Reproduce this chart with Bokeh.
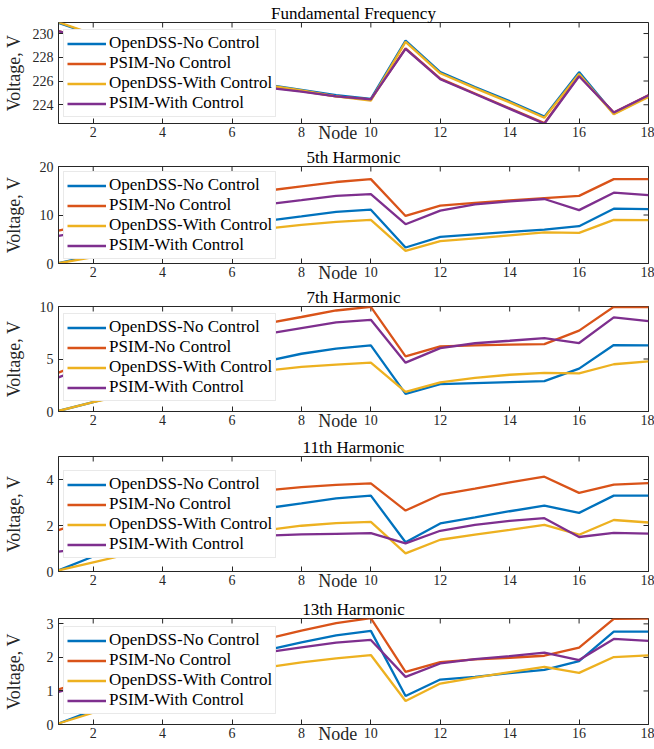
from bokeh.plotting import figure
from bokeh.models import Range1d, FixedTicker, Legend, LegendItem
from bokeh.layouts import column
from bokeh.embed import file_html
from bokeh.resources import INLINE
import math

FONT = "Liberation Serif"
TXT = "#262626"

nodes = list(range(1, 19))
series_names = ["OpenDSS-No Control", "PSIM-No Control", "OpenDSS-With Control", "PSIM-With Control"]
series_colors = ["#0072BD", "#D95319", "#EDB120", "#7E2F8E"]
x_ticks = [2, 4, 6, 8, 10, 12, 14, 16, 18]

# Fundamental frequency
fund_ods_nc = [230.9, 229.9, 229.0, 228.1, 227.3, 226.5, 225.7, 225.25, 224.8, 224.5, 229.4, 226.75, 225.5, 224.3, 223.0, 226.75, 223.25, 224.75]
fund_psim_nc = [230.2, 229.4, 228.6, 227.8, 227.0, 226.2, 225.5, 225.15, 224.7, 224.45, 228.75, 226.2, 224.95, 223.7, 222.45, 226.45, 223.35, 224.8]
fund_ods_wc = [230.95, 229.95, 229.0, 228.1, 227.25, 226.45, 225.65, 225.2, 224.7, 224.35, 229.3, 226.65, 225.4, 224.2, 222.9, 226.6, 223.2, 224.65]
fund_psim_wc = [230.2, 229.35, 228.55, 227.75, 226.95, 226.15, 225.45, 225.1, 224.7, 224.45, 228.7, 226.15, 224.9, 223.65, 222.4, 226.4, 223.35, 224.8]

# 5th harmonic
h5_ods_nc = [0.1, 1.7, 3.3, 4.9, 6.3, 7.6, 8.8, 9.7, 10.65, 11.1, 3.3, 5.5, 6.0, 6.5, 7.0, 7.7, 11.3, 11.2]
h5_psim_nc = [6.8, 8.3, 9.8, 11.2, 12.5, 13.8, 15.0, 15.9, 16.8, 17.4, 9.8, 11.95, 12.5, 13.0, 13.5, 13.95, 17.4, 17.4]
h5_ods_wc = [0.05, 1.3, 2.6, 3.9, 5.0, 6.1, 7.2, 7.95, 8.6, 9.0, 2.6, 4.6, 5.2, 5.8, 6.4, 6.3, 9.0, 8.95]
h5_psim_wc = [5.7, 7.0, 8.3, 9.5, 10.5, 11.4, 12.2, 13.05, 13.95, 14.3, 8.1, 10.9, 12.2, 12.8, 13.3, 11.0, 14.6, 14.1]

# 7th harmonic
h7_ods_nc = [0.05, 0.9, 1.8, 2.7, 3.5, 4.2, 4.8, 5.5, 5.98, 6.3, 1.68, 2.6, 2.7, 2.8, 2.9, 4.08, 6.33, 6.3]
h7_psim_nc = [3.7, 5.0, 6.0, 6.8, 7.5, 8.0, 8.4, 9.0, 9.62, 9.97, 5.25, 6.2, 6.3, 6.36, 6.42, 7.7, 9.97, 9.94]
h7_ods_wc = [0.05, 0.9, 1.6, 2.3, 2.9, 3.4, 3.9, 4.25, 4.46, 4.65, 1.87, 2.78, 3.2, 3.5, 3.67, 3.64, 4.5, 4.78]
h7_psim_wc = [3.25, 4.5, 5.4, 6.1, 6.7, 7.1, 7.4, 7.95, 8.48, 8.73, 4.65, 6.04, 6.5, 6.74, 6.99, 6.52, 8.96, 8.6]

# 11th harmonic
h11_ods_nc = [0.05, 0.65, 1.25, 1.75, 2.15, 2.5, 2.75, 2.96, 3.18, 3.3, 1.27, 2.09, 2.35, 2.62, 2.86, 2.55, 3.3, 3.3]
h11_psim_nc = [1.8, 2.3, 2.7, 3.0, 3.25, 3.4, 3.53, 3.67, 3.77, 3.83, 2.65, 3.34, 3.6, 3.87, 4.12, 3.42, 3.78, 3.84]
h11_ods_wc = [0.05, 0.4, 0.75, 1.05, 1.35, 1.6, 1.8, 1.99, 2.1, 2.16, 0.79, 1.38, 1.6, 1.81, 2.03, 1.6, 2.24, 2.13]
h11_psim_wc = [0.86, 1.05, 1.2, 1.32, 1.42, 1.5, 1.56, 1.61, 1.64, 1.67, 1.22, 1.77, 2.03, 2.2, 2.32, 1.5, 1.68, 1.65]

# 13th harmonic
h13_ods_nc = [0.03, 0.42, 0.8, 1.2, 1.55, 1.9, 2.22, 2.45, 2.66, 2.79, 0.85, 1.34, 1.42, 1.53, 1.63, 1.89, 2.77, 2.77]
h13_psim_nc = [1.05, 1.35, 1.65, 1.9, 2.15, 2.35, 2.55, 2.8, 3.02, 3.17, 1.57, 1.86, 1.94, 1.99, 2.05, 2.29, 3.15, 3.16]
h13_ods_wc = [0.03, 0.35, 0.7, 1.0, 1.25, 1.5, 1.7, 1.85, 1.97, 2.07, 0.7, 1.22, 1.4, 1.56, 1.72, 1.54, 2.01, 2.06]
h13_psim_wc = [0.97, 1.25, 1.5, 1.7, 1.88, 2.03, 2.15, 2.3, 2.44, 2.52, 1.42, 1.82, 1.95, 2.04, 2.14, 1.92, 2.55, 2.49]

panels = [
    dict(title="Fundamental Frequency", data=[fund_ods_nc, fund_psim_nc, fund_ods_wc, fund_psim_wc],
         yr=(222.42, 230.93), yt=[224, 226, 228, 230], fh=101, tb=22, bb=21, lt=11, ls=6),
    dict(title="5th Harmonic", data=[h5_ods_nc, h5_psim_nc, h5_ods_wc, h5_psim_wc],
         yr=(0, 20), yt=[0, 10, 20], fh=97, tb=20, bb=22, lt=9, ls=13),
    dict(title="7th Harmonic", data=[h7_ods_nc, h7_psim_nc, h7_ods_wc, h7_psim_wc],
         yr=(0, 10), yt=[0, 5, 10], fh=105, tb=20, bb=24, lt=11, ls=13),
    dict(title="11th Harmonic", data=[h11_ods_nc, h11_psim_nc, h11_ods_wc, h11_psim_wc],
         yr=(0, 5), yt=[0, 2, 4], fh=115, tb=20, bb=26, lt=18, ls=20),
    dict(title="13th Harmonic", data=[h13_ods_nc, h13_psim_nc, h13_ods_wc, h13_psim_wc],
         yr=(0, 3.16), yt=[0, 1, 2, 3], fh=106, tb=20, bb=23, lt=12, ls=20),
]

X_LO, X_HI = 1, 18
LEG_H = 84
NBSP = "\u00a0"
figs = []
for pn in panels:
    y_lo, y_hi = pn["yr"]
    p = figure(frame_width=590, frame_height=pn["fh"],
               x_range=Range1d(X_LO, X_HI), y_range=Range1d(y_lo, y_hi),
               output_backend="svg", toolbar_location=None,
               min_border_left=58, min_border_right=6,
               min_border_top=pn["tb"], min_border_bottom=pn["bb"])
    p.title.text = pn["title"]
    p.title.align = "center"
    p.title.text_font = FONT
    p.title.text_font_size = "17px"
    p.title.text_font_style = "normal"
    p.title.text_color = "#000000"
    p.title.standoff = 0
    p.grid.visible = False
    p.outline_line_color = TXT
    p.outline_line_width = 1
    p.background_fill_color = "white"
    p.border_fill_color = "white"

    xa = p.xaxis[0]
    xa.ticker = FixedTicker(ticks=x_ticks)
    xa.major_tick_in = 5
    xa.major_tick_out = 0
    xa.minor_tick_line_color = None
    xa.axis_line_color = TXT
    xa.major_tick_line_color = TXT
    xa.major_label_text_font = FONT
    xa.major_label_text_font_size = "14px"
    xa.major_label_text_color = TXT
    xa.major_label_standoff = 3
    xa.axis_label = "Node" + NBSP * 7
    xa.axis_label_text_font = FONT
    xa.axis_label_text_font_size = "18px"
    xa.axis_label_text_font_style = "normal"
    xa.axis_label_text_color = TXT
    xa.axis_label_standoff = -17

    ya = p.yaxis[0]
    ya.ticker = FixedTicker(ticks=pn["yt"])
    ya.major_tick_in = 5
    ya.major_tick_out = 0
    ya.minor_tick_line_color = None
    ya.axis_line_color = TXT
    ya.major_tick_line_color = TXT
    ya.major_label_text_font = FONT
    ya.major_label_text_font_size = "14px"
    ya.major_label_text_color = TXT
    ya.major_label_standoff = 5
    ya.axis_label = "Voltage, V"
    ya.axis_label_text_font = FONT
    ya.axis_label_text_font_size = "18px"
    ya.axis_label_text_font_style = "normal"
    ya.axis_label_text_color = TXT
    ya.axis_label_standoff = pn["ls"]

    # mirrored inward ticks on top and right edges (half of each dash is clipped by the frame)
    p.scatter(x=x_ticks, y=[y_hi] * len(x_ticks), marker="dash", angle=math.pi / 2,
              size=10, line_color=TXT, line_width=1)
    p.scatter(x=[X_HI] * len(pn["yt"]), y=pn["yt"], marker="dash",
              size=10, line_color=TXT, line_width=1)

    items = []
    for name, col, ys in zip(series_names, series_colors, pn["data"]):
        r = p.line(nodes, ys, line_color=col, line_width=2.3)
        items.append(LegendItem(label=name, renderers=[r]))
    leg = Legend(items=items, location=(5, pn["fh"] - pn["lt"] - LEG_H),
                 label_text_font=FONT, label_text_font_size="17px", label_text_color="#000000",
                 glyph_width=39, glyph_height=19, label_height=19, label_standoff=3,
                 spacing=0, padding=3, margin=0,
                 border_line_color="#d4d4d4", border_line_width=1,
                 background_fill_color="white", background_fill_alpha=1.0)
    p.add_layout(leg)
    figs.append(p)

layout = column(*figs, spacing=0)
open("out.html", "w").write(file_html(layout, INLINE))
